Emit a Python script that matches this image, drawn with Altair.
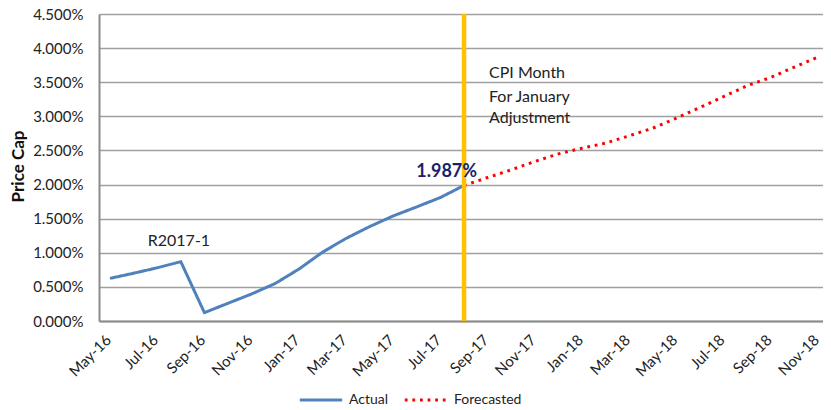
import altair as alt
import pandas as pd

months = ["May-16", "Jun-16", "Jul-16", "Aug-16", "Sep-16", "Oct-16", "Nov-16", "Dec-16",
          "Jan-17", "Feb-17", "Mar-17", "Apr-17", "May-17", "Jun-17", "Jul-17", "Aug-17",
          "Sep-17", "Oct-17", "Nov-17", "Dec-17", "Jan-18", "Feb-18", "Mar-18", "Apr-18",
          "May-18", "Jun-18", "Jul-18", "Aug-18", "Sep-18", "Oct-18", "Nov-18"]

# percent values, May-16 .. Aug-17
actual = [0.625, 0.70, 0.78, 0.87, 0.122, 0.26, 0.396, 0.55, 0.76, 1.007, 1.21, 1.384,
          1.54, 1.673, 1.81, 1.987]
# percent values, Aug-17 .. Nov-18
forecast = [1.987, 2.103, 2.216, 2.338, 2.45, 2.533, 2.607, 2.715, 2.827, 2.974, 3.13,
            3.29, 3.449, 3.571, 3.722, 3.869]

series_names = ["Actual", "Forecasted"]
y_ticks = [0.0, 0.005, 0.01, 0.015, 0.02, 0.025, 0.03, 0.035, 0.04, 0.045]
cpi_month = "Aug-17"
cpi_value = 1.987
cpi_lines = ["CPI Month", "For January", "Adjustment"]
cpi_line_values = [3.63, 3.277, 2.97]

rows = []
for i, v in enumerate(actual):
    rows.append({"idx": i, "month": months[i], "value": v / 100, "series": "Actual"})
start = months.index(cpi_month)
for j, v in enumerate(forecast):
    rows.append({"idx": start + j, "month": months[start + j], "value": v / 100, "series": "Forecasted"})
df = pd.DataFrame(rows)

FONT = "Lato"
label_expr = "[" + ",".join(f"'{m}'" for m in months) + "][datum.value]"

x_scale = alt.Scale(domain=[-0.466, 30.21], nice=False, zero=False)
y_scale = alt.Scale(domain=[0, 0.045], nice=False)

x_axis = alt.Axis(values=list(range(0, 31, 2)), labelExpr=label_expr, grid=False,
                  ticks=False, tickSize=0, domain=True, domainColor="#8c8c8c",
                  domainWidth=2, labelAngle=315, labelAlign="right",
                  labelBaseline="middle", labelPadding=16, labelOffset=-2,
                  labelFontSize=15, labelColor="#222222", labelFont=FONT)
y_axis = alt.Axis(values=y_ticks, format=".3%", grid=True, tickCount=10,
                  gridColor="#a0a0a0", gridWidth=1.3, ticks=False, tickSize=0,
                  domain=True, domainColor="#8c8c8c", domainWidth=2,
                  labelPadding=16, labelFontSize=15, labelColor="#222222",
                  labelFont=FONT, labelOverlap=False, titleFont=FONT, titleFontSize=17,
                  titleFontWeight="bold", titleColor="#111111",
                  titleX=-81, titleY=152, titleBaseline="middle")


def xenc():
    return alt.X("idx:Q", scale=x_scale, title=None, axis=x_axis)


def yenc(field):
    return alt.Y(field, scale=y_scale, title="Price Cap", axis=y_axis)


lines = alt.Chart(df).mark_line(strokeWidth=3).encode(
    x=xenc(),
    y=yenc("value:Q"),
    color=alt.Color("series:N", scale=alt.Scale(domain=series_names, range=["#4f81bd", "#ff0000"]),
                    legend=alt.Legend(title=None)),
    strokeDash=alt.StrokeDash("series:N", scale=alt.Scale(domain=series_names, range=[[1, 0], [2.8, 4.8]]),
                              legend=alt.Legend(title=None)),
    detail="series:N",
)

rule_df = pd.DataFrame({"idx": [start], "top": [0.045], "bottom": [0.0]})
rule = alt.Chart(rule_df).mark_rule(color="#ffc000", strokeWidth=4.5).encode(
    x=xenc(), y=yenc("top:Q"), y2="bottom:Q")

val_df = pd.DataFrame({"idx": [start], "value": [cpi_value / 100], "label": [f"{cpi_value:.3f}%"]})
val_text = alt.Chart(val_df).mark_text(font=FONT, fontSize=18, fontWeight="bold", color="#1c1f6e",
                                       align="right", baseline="middle", dx=13, dy=-13).encode(
    x=xenc(), y=yenc("value:Q"), text="label:N")

cpi_df = pd.DataFrame({"idx": [start] * 3, "value": [v / 100 for v in cpi_line_values], "label": cpi_lines})
cpi_text = alt.Chart(cpi_df).mark_text(font=FONT, fontSize=16, color="#222222", align="left",
                                       baseline="middle", dx=25).encode(
    x=xenc(), y=yenc("value:Q"), text="label:N")

r_df = pd.DataFrame({"idx": [1.6], "value": [0.01179], "label": ["R2017-1"]})
r_text = alt.Chart(r_df).mark_text(font=FONT, fontSize=16, color="#222222", align="left",
                                   baseline="middle").encode(
    x=xenc(), y=yenc("value:Q"), text="label:N")

chart = alt.layer(lines, rule, val_text, cpi_text, r_text).properties(
    width=724, height=307,
    autosize=alt.AutoSizeParams(type="none"),
    padding={"left": 91, "top": 6, "right": 0, "bottom": 88},
).configure_view(stroke=None).configure_legend(
    orient="none", legendX=199, legendY=363, direction="horizontal",
    symbolType="stroke", symbolSize=1800, symbolStrokeWidth=3,
    labelFont=FONT, labelFontSize=14, labelColor="#222222",
    columnPadding=9, labelOffset=5,
)

chart.save("out.html", embed_options={"renderer": "svg", "actions": False})
